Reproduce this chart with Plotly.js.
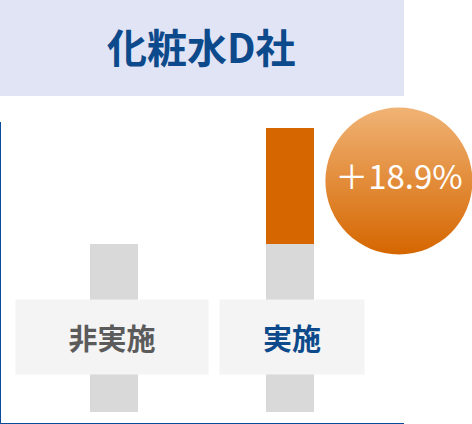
<!DOCTYPE html>
<html><head><meta charset="utf-8">
<script src="https://cdn.plot.ly/plotly-3.0.1.min.js"></script>
<style>html,body{margin:0;padding:0;background:#fff}#chart{width:472px;height:424px}</style>
</head><body><div id="chart"></div>
<script>
const chartTitle = '化粧水D社';
const categories = ['非実施', '実施'];
const baseValues = [100, 100];
const increaseValues = [0, 69];
const growthLabel = ['＋18.9%'];
const labelColors = ['#5b5b5b', '#0d4a8c'];

const xRange = [-0.642, 1.648];

const traces = [
  {type: 'bar', x: categories, y: baseValues, width: 0.273, marker: {color: '#d9d9d9'}, hoverinfo: 'skip'},
  {type: 'bar', x: categories, y: increaseValues, width: 0.273, marker: {color: '#d66700'}, hoverinfo: 'skip'},
  {type: 'scatter', mode: 'markers+text', xaxis: 'x2', x: [1.619], y: [137.3], text: growthLabel,
   textposition: 'middle center', cliponaxis: false, hoverinfo: 'skip',
   textfont: {family: 'Noto Sans CJK JP', size: 33, color: '#ffffff'},
   marker: {size: 147, color: '#e28a3a', line: {width: 0}, opacity: 1}}
];

const annotations = categories.map((c, i) => ({
  x: c, xref: 'x', y: 0.2857, yref: 'paper', xanchor: 'center', yanchor: 'middle',
  text: '<b>' + c + '</b>', showarrow: false,
  xshift: i === 0 ? -2 : 2,
  width: i === 0 ? 192 : 144, height: 74, bgcolor: '#f4f4f4', borderpad: 0,
  font: {family: 'Noto Sans CJK JP', size: 29, color: labelColors[i]}
}));

const layout = {
  width: 472, height: 424,
  margin: {l: 1, r: 68, t: 122, b: 1},
  paper_bgcolor: '#ffffff', plot_bgcolor: '#ffffff',
  barmode: 'stack', showlegend: false,
  title: {text: '<b>' + chartTitle + '</b>', xref: 'paper', x: 0.497, xanchor: 'center',
          yref: 'container', y: 1 - 49 / 424, yanchor: 'middle',
          font: {family: 'Noto Sans CJK JP', size: 40, color: '#0d4a8c'}},
  xaxis: {type: 'category', range: xRange, showticklabels: false, ticks: '',
          showgrid: false, zeroline: false, showline: true, linecolor: '#0a4c9c', linewidth: 2, fixedrange: true},
  xaxis2: {type: 'linear', overlaying: 'x', range: xRange, visible: false, fixedrange: true},
  yaxis: {range: [-6.73, 172.4], showticklabels: false, ticks: '', showgrid: false, zeroline: false,
          showline: true, linecolor: '#0a4c9c', linewidth: 2, fixedrange: true},
  shapes: [{type: 'rect', xref: 'paper', yref: 'paper', x0: -0.01, x1: 1.0, y0: 1.086, y1: 1.41,
            fillcolor: '#e1e4f5', line: {width: 0}, layer: 'below'}],
  annotations: annotations
};

Plotly.newPlot('chart', traces, layout, {displayModeBar: false, staticPlot: true}).then(function (gd) {
  const svg = gd.querySelector('svg.main-svg');
  const ns = 'http://www.w3.org/2000/svg';
  let defs = svg.querySelector('defs');
  if (!defs) { defs = document.createElementNS(ns, 'defs'); svg.insertBefore(defs, svg.firstChild); }
  const g = document.createElementNS(ns, 'linearGradient');
  g.setAttribute('id', 'circleGrad');
  g.setAttribute('x1', '0'); g.setAttribute('y1', '0'); g.setAttribute('x2', '0'); g.setAttribute('y2', '1');
  [['0', '#f0b375'], ['1', '#d56600']].forEach(function (s) {
    const st = document.createElementNS(ns, 'stop');
    st.setAttribute('offset', s[0]); st.setAttribute('stop-color', s[1]);
    g.appendChild(st);
  });
  defs.appendChild(g);
  gd.querySelectorAll('.scatterlayer .point').forEach(function (p) {
    p.style.fill = 'url(#circleGrad)';
  });
});
</script></body></html>
